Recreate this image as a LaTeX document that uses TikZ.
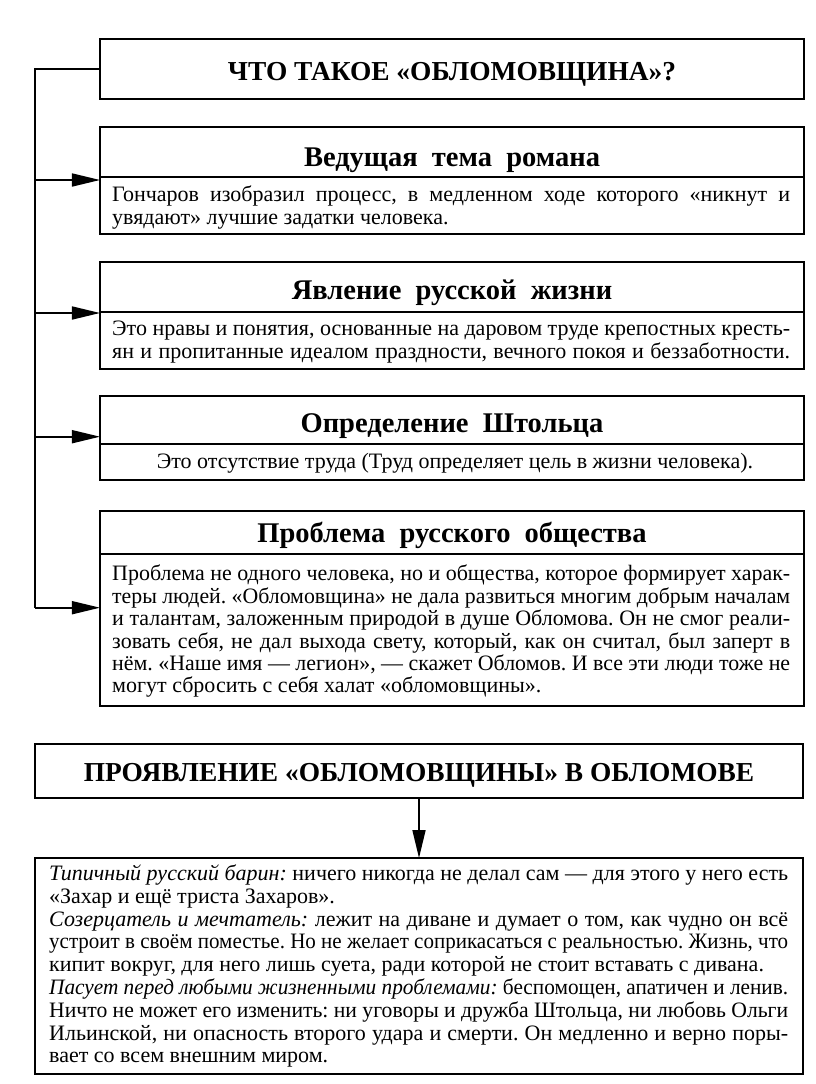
\documentclass[tikz,border=0pt]{standalone}
\usepackage{fontspec}
\usepackage{graphicx}
\setmainfont{Liberation Serif}
\usetikzlibrary{arrows.meta}
\frenchspacing
\newsavebox\jbox
\newcommand\J[2][678bp]{\sbox\jbox{\spaceskip=0pt\xspaceskip=0pt #2}%
  \ifdim\wd\jbox>#1\relax\scalebox{\fpeval{(#1)/(\the\wd\jbox)}}[1]{\usebox\jbox}%
  \else\makebox[#1][s]{\spaceskip=0pt\xspaceskip=0pt #2}\fi\\}
\newcommand\N[2][678bp]{\sbox\jbox{\spaceskip=0pt\xspaceskip=0pt #2}%
  \ifdim\wd\jbox>#1\relax\scalebox{\fpeval{(#1)/(\the\wd\jbox)}}[1]{\usebox\jbox}%
  \else\usebox\jbox\fi}
\begin{document}
\frenchspacing
\begin{tikzpicture}[x=1bp,y=-1bp,
  box/.style={draw, line width=1.7bp, inner sep=0pt, outer sep=0pt},
  ln/.style={line width=1.7bp},
  hd/.style={font=\fontsize{27.4bp}{30bp}\selectfont\bfseries, inner sep=0pt, anchor=base},
  sh/.style={font=\fontsize{28.5bp}{30bp}\selectfont\bfseries, inner sep=0pt, anchor=base},
  bt/.style={font=\fontsize{22bp}{22.3bp}\selectfont, inner sep=0pt, anchor=north west, text width=678bp, align=left},
  arr/.style={line width=1.7bp, -{Triangle[length=28bp,width=13bp]}}]
\fill[white] (0,0) rectangle (816,1084);
\useasboundingbox (0,0) rectangle (816,1084);

% boxes
\node[box, minimum width=704bp, minimum height=60bp] (A) at (452,69) {};
\node[box, minimum width=704bp, minimum height=107bp] (B) at (452,180.5) {};
\node[box, minimum width=704bp, minimum height=107bp] (C) at (452,315.5) {};
\node[box, minimum width=704bp, minimum height=84bp] (D) at (452,438) {};
\node[box, minimum width=704bp, minimum height=195bp] (E) at (452,608.5) {};
\node[box, minimum width=768bp, minimum height=54bp] (F) at (419,771) {};
\node[box, minimum width=768bp, minimum height=216bp] (G) at (419,966) {};

% dividers
\draw[ln] (B.west |- 0,177) -- (B.east |- 0,177);
\draw[ln] (C.west |- 0,312) -- (C.east |- 0,312);
\draw[ln] (D.west |- 0,444) -- (D.east |- 0,444);
\draw[ln] (E.west |- 0,554) -- (E.east |- 0,554);

% headings
\node[hd] (At) at (452,80) {ЧТО ТАКОЕ «ОБЛОМОВЩИНА»?};
\node[sh] (Bh) at (452,166) {Ведущая\ \ тема\ \ романа};
\node[sh] (Ch) at (452,299) {Явление\ \ русской\ \ жизни};
\node[sh] (Dh) at (452,432.7) {Определение\ \ Штольца};
\node[sh] (Eh) at (452,542) {Проблема\ \ русского\ \ общества};
\node[hd] (Ft) at (419,781.7) {ПРОЯВЛЕНИЕ «ОБЛОМОВЩИНЫ» В ОБЛОМОВЕ};

% bodies
\node[bt] (Bt) at (112,185.8) {\J{\strut Гончаров изобразил процесс, в медленном ходе которого «никнут и}
\N{увядают» лучшие задатки человека.}};
\node[bt] (Ct) at (112,319.3) {\J{\strut Это нравы и понятия, основанные на даровом труде крепостных кресть-}
\J{ян и пропитанные идеалом праздности, вечного покоя и беззаботности.}};
\node[font=\fontsize{22bp}{22.3bp}\selectfont, inner sep=0pt, anchor=base] (Dt) at (455,468) {Это отсутствие труда (Труд определяет цель в жизни человека).};
\node[bt] (Et) at (112,564.3) {\J{\strut Проблема не одного человека, но и общества, которое формирует харак-}
\J{теры людей. «Обломовщина» не дала развиться многим добрым началам}
\J{и талантам, заложенным природой в душе Обломова. Он не смог реали-}
\J{зовать себя, не дал выхода свету, который, как он считал, был заперт в}
\J{нём. «Наше имя — легион», — скажет Обломов. И все эти люди тоже не}
\N{могут сбросить с себя халат «обломовщины».}};
\node[bt, text width=739bp, font=\fontsize{22bp}{22.8bp}\selectfont] (Gt) at (49,864.3) {\J[739bp]{\strut\textit{Типичный русский барин:} ничего никогда не делал сам — для этого у него есть}
\N[739bp]{«Захар и ещё триста Захаров».}\\
\J[739bp]{\textit{Созерцатель и мечтатель:} лежит на диване и думает о том, как чудно он всё}
\J[739bp]{устроит в своём поместье. Но не желает соприкасаться с реальностью. Жизнь, что}
\N[739bp]{кипит вокруг, для него лишь суета, ради которой не стоит вставать с дивана.}\\
\J[739bp]{\textit{Пасует перед любыми жизненными проблемами:} беспомощен, апатичен и ленив.}
\J[739bp]{Ничто не может его изменить: ни уговоры и дружба Штольца, ни любовь Ольги}
\J[739bp]{Ильинской, ни опасность второго удара и смерти. Он медленно и верно поры-}
\N[739bp]{вает со всем внешним миром.}};

% connectors
\coordinate (bend) at (35,607.7);
\coordinate (jB) at (35,180);
\coordinate (jC) at (35,313);
\coordinate (jD) at (35,436.7);
\draw[ln] (A.west) -| (bend);
\draw[arr] (bend) -- (E.west |- bend);
\draw[arr] (jB) -- (B.west |- jB);
\draw[arr] (jC) -- (C.west |- jC);
\draw[arr] (jD) -- (D.west |- jD);
\draw[arr] (F.south) -- (G.north);
\end{tikzpicture}
\end{document}
